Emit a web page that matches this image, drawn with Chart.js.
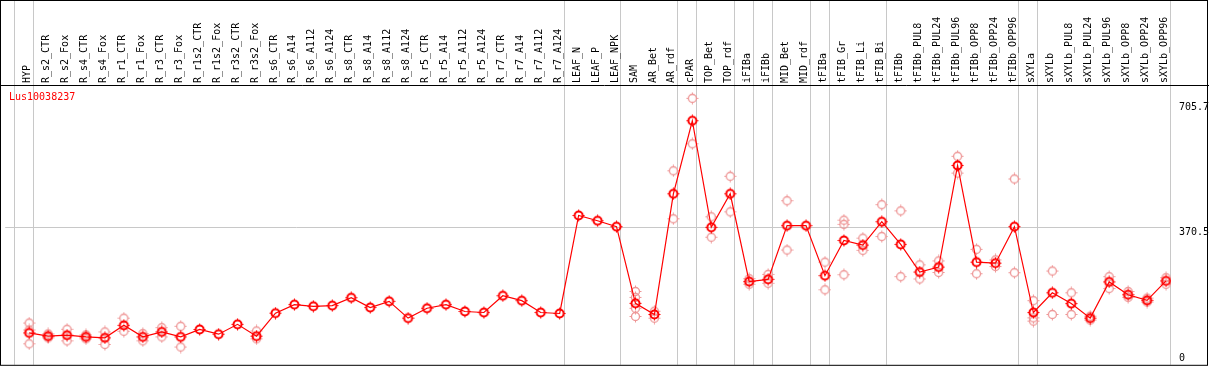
<!DOCTYPE html>
<html>
<head>
<meta charset="utf-8">
<script src="https://cdn.jsdelivr.net/npm/chart.js@4/dist/chart.umd.min.js"></script>
<style>
  html, body { margin: 0; padding: 0; background: #fff; }
  #wrap { width: 1209px; height: 370px; }
</style>
</head>
<body>
<div id="wrap"><canvas id="expr-plot" width="1209" height="370"></canvas></div>
<script>
// Expressionsprofil eines Gens über alle Gewebeproben
const geneId = 'Lus10038237';

const samples = [
    'HYP', 'R_s2_CTR', 'R_s2_Fox', 'R_s4_CTR', 'R_s4_Fox', 'R_r1_CTR', 'R_r1_Fox', 'R_r3_CTR', 'R_r3_Fox',
    'R_r1s2_CTR', 'R_r1s2_Fox', 'R_r3s2_CTR', 'R_r3s2_Fox', 'R_s6_CTR', 'R_s6_A14', 'R_s6_A112', 'R_s6_A124',
    'R_s8_CTR', 'R_s8_A14', 'R_s8_A112', 'R_s8_A124', 'R_r5_CTR', 'R_r5_A14', 'R_r5_A112', 'R_r5_A124',
    'R_r7_CTR', 'R_r7_A14', 'R_r7_A112', 'R_r7_A124', 'LEAF_N', 'LEAF_P', 'LEAF_NPK', 'SAM', 'AR_Bet', 'AR_rdf',
    'cPAR', 'TOP_Bet', 'TOP_rdf', 'iFIBa', 'iFIBb', 'MID_Bet', 'MID_rdf', 'tFIBa', 'tFIB_Gr', 'tFIB_Li', 'tFIB_Bi',
    'tFIBb', 'tFIBb_PUL8', 'tFIBb_PUL24', 'tFIBb_PUL96', 'tFIBb_OPP8', 'tFIBb_OPP24', 'tFIBb_OPP96',
    'sXYLa', 'sXYLb', 'sXYLb_PUL8', 'sXYLb_PUL24', 'sXYLb_PUL96', 'sXYLb_OPP8', 'sXYLb_OPP24', 'sXYLb_OPP96'
];

// Mittelwerte
const means = [
    85.5, 76.8, 79.4, 74.9, 72.3, 105.9, 74.9, 88.2, 74.9,
    94.8, 82.1, 108.6, 76.8, 138.5, 161.5, 157.0, 158.9,
    180.0, 153.6, 170.2, 125.2, 151.7, 161.5, 143.0, 140.3,
    185.3, 172.1, 140.3, 137.7, 400.6, 386.6, 370.7, 164.9, 135.0, 458.8,
    654.8, 368.8, 458.8, 223.2, 229.3, 373.3, 373.3, 239.1, 333.6, 321.2, 383.9,
    323.0, 248.9, 262.1, 534.8, 275.4, 272.7, 370.7,
    140.3, 193.3, 164.2, 125.2, 222.4, 188.0, 172.9, 225.0
];

// Einzelwerte (Replikate)
const replicates = [
    [112, 93.5, 56.4], [82.9, 72.3], [95.3, 64.3], [80.2, 69.6], [88.2, 54.5], [125.2, 90], [83.7, 64.3], [99.6, 74.9], [103.3, 47.7],
    [], [], [], [90.8, 69.6], [], [], [], [],
    [], [], [], [], [], [], [], [],
    [], [], [], [], [], [], [], [196.7, 180.8, 151.7, 129.7], [143.8, 125.2], [520.5, 391.8],
    [714.8, 593], [397.1, 342.3], [505.7, 410.4], [231.1, 216], [242.5, 218.7], [440.3, 307.9], [], [275.4, 201.2], [388.1, 376.8, 241.7], [339.7, 307.1], [429.7, 344.2],
    [413, 236.4], [268.2, 230.3], [278.8, 247.8], [559.4, 514.4], [309.8, 244.4], [281.4, 263.7], [498.5, 247],
    [172.1, 126, 117.3], [251.5, 135], [193.3, 135], [130.5, 119.9], [236.4, 204.7], [196.7, 180.8], [179, 168.4], [233.8, 216]
];

const yTicks = [0, 370.5, 705.7];
// letzter Index jeder Probengruppe (-1 = linker Rand)
const groupEnds = [-1, 0, 28, 31, 34, 35, 37, 38, 39, 41, 42, 45, 52, 53, 60];

function makeMarker(color, width) {
    const c = document.createElement('canvas');
    c.width = 13; c.height = 13;
    const g = c.getContext('2d');
    g.strokeStyle = color;
    g.lineWidth = width;
    g.beginPath();
    g.arc(6.5, 6.5, 4, 0, Math.PI * 2);
    g.stroke();
    g.lineWidth = 1;
    g.beginPath();
    g.moveTo(6.5, 0.5); g.lineTo(6.5, 2);
    g.moveTo(6.5, 11); g.lineTo(6.5, 12.5);
    g.moveTo(0.5, 6.5); g.lineTo(2, 6.5);
    g.moveTo(11, 6.5); g.lineTo(12.5, 6.5);
    g.stroke();
    return c;
}

const font = '10px "DejaVu Sans Mono", monospace';

const framePlugin = {
    id: 'frame',
    beforeDatasetsDraw(chart) {
        const { ctx, chartArea: a, scales: { x, y } } = chart;
        ctx.save();
        ctx.strokeStyle = '#c8c8c8';
        ctx.lineWidth = 1;
        const gy = Math.round(y.getPixelForValue(yTicks[1])) + 0.5;
        ctx.beginPath();
        ctx.moveTo(a.left, gy);
        ctx.lineTo(a.right, gy);
        ctx.stroke();
        groupEnds.forEach(i => {
            const gx = Math.round(x.getPixelForValue(i + 0.26)) - 0.5;
            ctx.beginPath();
            ctx.moveTo(gx, 0);
            ctx.lineTo(gx, a.bottom);
            ctx.stroke();
        });
        ctx.restore();
    },
    afterDraw(chart) {
        const { ctx, chartArea: a, scales: { x, y } } = chart;
        ctx.save();
        ctx.font = font;
        ctx.fillStyle = '#000';
        // Probennamen oben, gedreht
        samples.forEach((s, i) => {
            const px = x.getPixelForValue(i);
            ctx.save();
            ctx.translate(px - 1.5, 83);
            ctx.rotate(-Math.PI / 2);
            ctx.textAlign = 'left';
            ctx.textBaseline = 'middle';
            ctx.fillText(s, 0, 0);
            ctx.restore();
        });
        // Achsenbeschriftung rechts
        ctx.textAlign = 'left';
        ctx.textBaseline = 'top';
        yTicks.forEach(v => {
            let py = y.getPixelForValue(v) + 1;
            if (py > a.bottom - 11) py = a.bottom - 11;
            ctx.fillText(String(v), a.right + 8, py);
        });
        // Gen-ID
        ctx.fillStyle = '#ff0000';
        ctx.fillText(geneId, 9, 92);
        // Rahmen
        ctx.strokeStyle = '#000';
        ctx.lineWidth = 1;
        ctx.strokeRect(0.5, 0.5, chart.width - 2, a.bottom);
        ctx.beginPath();
        ctx.moveTo(0, 85.5);
        ctx.lineTo(chart.width, 85.5);
        ctx.stroke();
        ctx.restore();
    }
};

const repPoints = [];
replicates.forEach((reps, i) => reps.forEach(v => repPoints.push({ x: i, y: v })));

const ctx = document.getElementById('expr-plot').getContext('2d');
const chartExpr = new Chart(ctx, {
    type: 'line',
    data: {
        datasets: [{
            label: geneId,
            data: means.map((v, i) => ({ x: i, y: v })),
            borderColor: '#ff0000',
            borderWidth: 1.2,
            pointStyle: makeMarker('#ff0000', 2),
            pointRadius: 4,
            fill: false,
            tension: 0,
            order: 0
        }, {
            label: 'Replikate',
            data: repPoints,
            showLine: false,
            pointStyle: makeMarker('rgb(238,150,150)', 1.3),
            pointRadius: 4,
            order: 1
        }]
    },
    plugins: [framePlugin],
    options: {
        responsive: false,
        animation: false,
        layout: {
            padding: { left: 2, right: 38, top: 86, bottom: 1.5 }
        },
        scales: {
            x: { type: 'linear', display: false, min: -1.263, max: 60.263 },
            y: { type: 'linear', display: false, min: 0, max: 748 }
        },
        plugins: {
            legend: { display: false },
            tooltip: { enabled: false }
        }
    }
});
</script>
</body>
</html>
